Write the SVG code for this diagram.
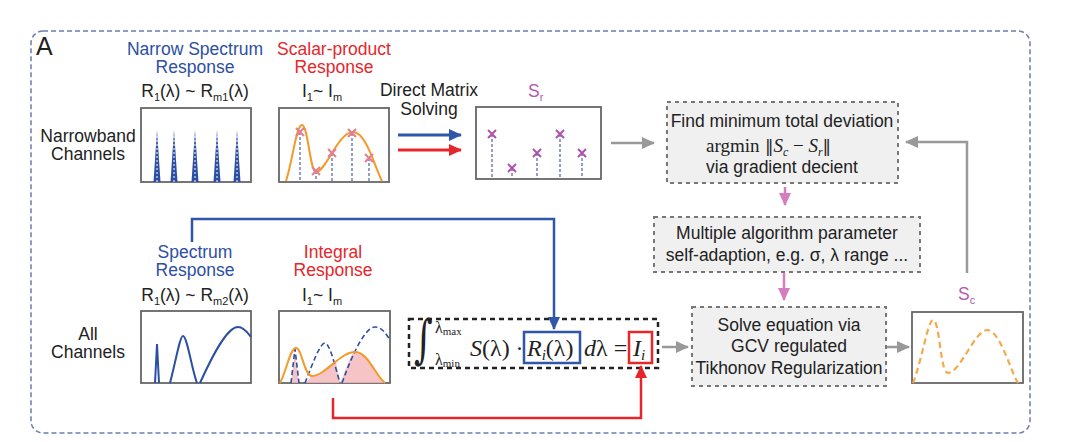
<svg xmlns="http://www.w3.org/2000/svg" xmlns:xlink="http://www.w3.org/1999/xlink" width="1080" height="442" viewBox="0 0 1080 442">
<style>
text{font-family:"Liberation Sans",Arial,sans-serif;font-size:17.5px;fill:#222}
.c{text-anchor:middle}
.blue{fill:#2d4fa3}
.red{fill:#e6262b}
.pink{fill:#b35aad}
.serif{font-family:"Liberation Serif","Times New Roman",serif}
.chart{fill:#fff;stroke:#666;stroke-width:1.8}
.gbox{fill:#f0f0f0;stroke:#777;stroke-width:2;stroke-dasharray:4 4}
.vd{stroke:#4a5fa8;stroke-width:1.2;stroke-dasharray:3 2;fill:none}
.gray{stroke:#999;stroke-width:2.5;fill:none}
.pk{stroke:#d57dbf;stroke-width:2.5;fill:none}
</style>
<defs>
<marker id="ag" markerUnits="userSpaceOnUse" markerWidth="14" markerHeight="14" refX="12" refY="7" orient="auto"><path d="M0,1 L13,7 L0,13 Z" fill="#999"/></marker>
<marker id="ab" markerUnits="userSpaceOnUse" markerWidth="14" markerHeight="14" refX="12" refY="7" orient="auto"><path d="M0,1 L13,7 L0,13 Z" fill="#2f56a8"/></marker>
<marker id="ar" markerUnits="userSpaceOnUse" markerWidth="14" markerHeight="14" refX="12" refY="7" orient="auto"><path d="M0,1 L13,7 L0,13 Z" fill="#e6262b"/></marker>
<marker id="ap" markerUnits="userSpaceOnUse" markerWidth="14" markerHeight="14" refX="12" refY="7" orient="auto"><path d="M0,1 L13,7 L0,13 Z" fill="#d57dbf"/></marker>
<path id="xm" d="M-4,-4 L4,4 M-4,4 L4,-4" stroke-width="2" fill="none"/>
<g id="spike"><path d="M-3.5,0 L0,-52 L3.5,0 Z" fill="#2d4fa3"/><path d="M0,-46 V0" stroke="#fff" stroke-width="1" stroke-dasharray="2 2"/></g>
</defs>

<rect id="frame" x="31" y="31" width="999" height="402" rx="12" fill="none" stroke="#6b7db3" stroke-width="1.5" stroke-dasharray="5 3"/>
<text x="36" y="55" style="font-size:25px">A</text>

<g id="row-labels">
<text class="c" x="88" y="142">Narrowband</text>
<text class="c" x="88" y="160">Channels</text>
<text class="c" x="88" y="340">All</text>
<text class="c" x="88" y="358">Channels</text>
</g>

<g id="narrow-spectrum">
<text class="c blue" x="195" y="55">Narrow Spectrum</text>
<text class="c blue" x="195" y="73">Response</text>
<text class="c" x="195" y="97">R<tspan dy="4" style="font-size:11px">1</tspan><tspan dy="-4">(λ) ~ R</tspan><tspan dy="4" style="font-size:11px">m1</tspan><tspan dy="-4">(λ)</tspan></text>
<rect class="chart" x="141" y="108" width="110" height="74"/>
<use xlink:href="#spike" x="157" y="182"/>
<use xlink:href="#spike" x="174" y="182"/>
<use xlink:href="#spike" x="195" y="182"/>
<use xlink:href="#spike" x="217" y="182"/>
<use xlink:href="#spike" x="237" y="182"/>
</g>

<g id="scalar-product">
<text class="c red" x="334" y="55">Scalar-product</text>
<text class="c red" x="334" y="73">Response</text>
<text class="c" x="322" y="97">I<tspan dy="4" style="font-size:11px">1</tspan><tspan dy="-4">~ I</tspan><tspan dy="4" style="font-size:11px">m</tspan></text>
<rect class="chart" x="279" y="108" width="110" height="74"/>
<path class="vd" d="M300,132V181 M316,171V181 M332,153V181 M352,133V181 M369,158V181"/>
<path d="M286,181 C293,160 296,125 302,125 C308,125 310,172 316,172 C326,172 338,132 353,132 C366,132 374,165 382,181" fill="none" stroke="#f39a2a" stroke-width="2"/>
<g stroke="#e57d90">
<use xlink:href="#xm" x="300" y="132"/><use xlink:href="#xm" x="316" y="171"/><use xlink:href="#xm" x="332" y="153"/><use xlink:href="#xm" x="352" y="133"/><use xlink:href="#xm" x="369" y="158"/>
</g>
</g>

<g id="direct-label">
<text class="c" x="429" y="96">Direct Matrix</text>
<text class="c" x="429" y="115">Solving</text>
</g>

<g id="sr-chart">
<text class="pink" x="528" y="97">S<tspan dy="4" style="font-size:11px">r</tspan></text>
<rect class="chart" x="476" y="107" width="125" height="72"/>
<path class="vd" d="M492,134V179 M512,168V179 M537,153V179 M560,134V179 M582,153V179"/>
<g stroke="#b050b0">
<use xlink:href="#xm" x="492" y="134"/><use xlink:href="#xm" x="512" y="168"/><use xlink:href="#xm" x="537" y="153"/><use xlink:href="#xm" x="560" y="134"/><use xlink:href="#xm" x="582" y="153"/>
</g>
</g>

<g id="find-box">
<rect class="gbox" x="667" y="102" width="231" height="81"/>
<text class="c" x="782" y="127">Find minimum total deviation</text>
<text class="serif" x="706" y="152" style="font-size:19px">argmin<tspan style="font-family:'DejaVu Serif',serif;font-size:17px"> ‖</tspan><tspan font-style="italic">S</tspan><tspan dy="4" style="font-size:12px;font-style:italic">c</tspan><tspan dy="-4"> − </tspan><tspan font-style="italic">S</tspan><tspan dy="4" style="font-size:12px;font-style:italic">r</tspan><tspan dy="-4" style="font-family:'DejaVu Serif',serif;font-size:17px">‖</tspan></text>
<text class="c" x="782" y="173">via gradient decient</text>
</g>

<g id="multiple-box">
<rect class="gbox" x="654" y="217" width="266" height="55"/>
<text class="c" x="787" y="239">Multiple algorithm parameter</text>
<text class="c" x="787" y="261">self-adaption, e.g. σ, λ range ...</text>
</g>

<g id="solve-box">
<rect class="gbox" x="692" y="307" width="194" height="79"/>
<text class="c" x="789" y="331">Solve equation via</text>
<text class="c" x="789" y="352">GCV regulated</text>
<text class="c" x="789" y="374">Tikhonov Regularization</text>
</g>

<g id="sc-chart">
<text class="pink" x="958" y="300">S<tspan dy="4" style="font-size:11px">c</tspan></text>
<rect class="chart" x="912" y="312" width="111" height="71"/>
<path d="M913,383 C922,360 928,320 933,320 C940,320 940,373 948,373 C960,373 975,330 987,330 C1000,330 1010,370 1018,383" fill="none" stroke="#f5a94a" stroke-width="2.2" stroke-dasharray="6 4"/>
</g>

<g id="spectrum-response">
<text class="c blue" x="195" y="258">Spectrum</text>
<text class="c blue" x="195" y="276">Response</text>
<text class="c" x="195" y="301">R<tspan dy="4" style="font-size:11px">1</tspan><tspan dy="-4">(λ) ~ R</tspan><tspan dy="4" style="font-size:11px">m2</tspan><tspan dy="-4">(λ)</tspan></text>
<rect class="chart" x="141" y="311" width="110" height="72"/>
<path d="M155,383 L157,344 L159,383 M170,383 C176,360 180,336 183,336 C187,336 192,370 197,383 M200,383 C215,350 228,327 238,327 C244,327 248,333 251,337" fill="none" stroke="#2d4fa3" stroke-width="2"/>
</g>

<g id="integral-response">
<text class="c red" x="333" y="258">Integral</text>
<text class="c red" x="333" y="276">Response</text>
<text class="c" x="322" y="301">I<tspan dy="4" style="font-size:11px">1</tspan><tspan dy="-4">~ I</tspan><tspan dy="4" style="font-size:11px">m</tspan></text>
<rect class="chart" x="279" y="311" width="111" height="72"/>
<path d="M291,383 L295,352 L299,383 Z M306,383 L312,375 C322,375 330,366 336,362 L340,383 L344,374 C349,360 352,352 356,352 C368,352 375,375 385,383 Z" fill="#f4b8bd" opacity="0.85"/>
<path d="M291,383 L295,349 L299,383 M305,383 C312,365 320,343 325,343 C330,343 336,370 340,383 M342,383 C352,355 365,327 375,327 C382,327 386,334 390,340" fill="none" stroke="#2d4fa3" stroke-width="1.6" stroke-dasharray="5 3"/>
<path d="M280,383 C287,370 290,348 296,348 C302,348 304,376 312,376 C325,376 340,352 355,352 C368,352 375,375 385,383" fill="none" stroke="#f39a2a" stroke-width="2"/>
</g>

<g id="equation">
<rect x="409" y="319" width="249" height="49" fill="#fff" stroke="#222" stroke-width="2.5" stroke-dasharray="5 4"/>
<text transform="translate(414,357) scale(1,1.45)" style="font-family:'DejaVu Serif',serif;font-size:36px">∫</text>
<text class="serif" x="435" y="333" style="font-size:16px">λ<tspan dy="2" style="font-size:11px">max</tspan></text>
<text class="serif" x="435" y="365" style="font-size:16px">λ<tspan dy="2" style="font-size:11px">min</tspan></text>
<text class="serif" x="470" y="356" style="font-size:24px"><tspan font-style="italic">S</tspan>(λ) ·</text>
<rect x="524" y="332" width="56" height="31" fill="none" stroke="#2f56a8" stroke-width="2.5"/>
<text class="serif" x="527" y="356" style="font-size:24px"><tspan font-style="italic">R</tspan><tspan dy="4" style="font-size:15px;font-style:italic">i</tspan><tspan dy="-4">(λ)</tspan></text>
<text class="serif" x="584" y="356" style="font-size:24px"><tspan font-style="italic">d</tspan>λ =</text>
<rect x="629" y="332" width="23" height="31" fill="none" stroke="#e6262b" stroke-width="2.5"/>
<text class="serif" x="633" y="356" style="font-size:24px"><tspan font-style="italic">I</tspan><tspan dy="4" style="font-size:15px;font-style:italic">i</tspan></text>
</g>

<g id="connectors">
<path d="M398,135 H461" stroke="#2f56a8" stroke-width="3" marker-end="url(#ab)"/>
<path d="M398,150 H461" stroke="#e6262b" stroke-width="3" marker-end="url(#ar)"/>
<path class="gray" d="M611,143 H654" marker-end="url(#ag)"/>
<path class="pk" d="M785,187 V205" marker-end="url(#ap)"/>
<path class="pk" d="M784,273 V300" marker-end="url(#ap)"/>
<path class="gray" d="M662,347 H688" marker-end="url(#ag)"/>
<path class="gray" d="M887,347 H909" marker-end="url(#ag)"/>
<path class="gray" d="M967,273 V142 H906" marker-end="url(#ag)"/>
<path d="M192,242 V219 H554 V329" fill="none" stroke="#2f56a8" stroke-width="2.5" marker-end="url(#ab)"/>
<path d="M333,398 V418 H641 V366" fill="none" stroke="#e6262b" stroke-width="2.5" marker-end="url(#ar)"/>
</g>
</svg>
